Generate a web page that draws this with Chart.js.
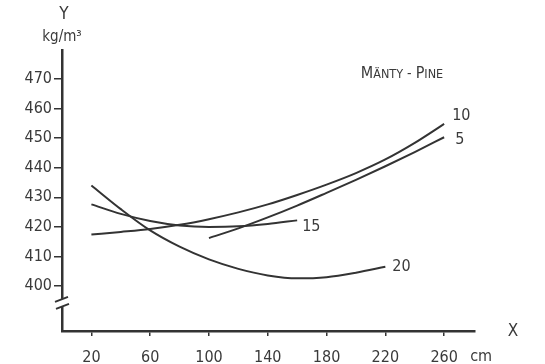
<!DOCTYPE html>
<html>
<head>
<meta charset="utf-8">
<script src="https://cdn.jsdelivr.net/npm/chart.js@4"></script>
<style>
  html, body { margin: 0; padding: 0; background: #fff; }
  #wrap { width: 545px; height: 364px; position: relative; }
</style>
</head>
<body>
<div id="wrap"><canvas id="densityChart"></canvas></div>
<script>
// data (x in cm, y in kg/m3)
const xTicks = [20, 60, 100, 140, 180, 220, 260];
const yTicks = [400, 410, 420, 430, 440, 450, 460, 470];

const x5 = [100, 120, 140, 160, 180, 200, 220, 240, 260];
const y5 = [416.2, 419.5, 423.2, 427.2, 431.5, 435.9, 440.5, 445.3, 450.3];

const x10 = [20, 40, 60, 80, 100, 120, 140, 160, 180, 200, 220, 240, 260];
const y10 = [417.4, 418.3, 419.3, 420.7, 422.6, 424.9, 427.6, 430.8, 434.3, 438.2, 442.8, 448.4, 454.8];

const x15 = [20, 40, 60, 80, 100, 120, 140, 160];
const y15 = [427.6, 424.4, 422.0, 420.5, 420.0, 420.2, 421.0, 422.2];

const x20 = [20, 40, 60, 80, 100, 120, 140, 160, 180, 200, 220];
const y20 = [434.0, 426.0, 418.8, 413.3, 409.0, 405.8, 403.6, 402.6, 403.0, 404.5, 406.5];

const seriesNames = ['5', '10', '15', '20'];

const INK = '#333333';
const TEXT = '#3a3a3a';
const FONT = '"DejaVu Sans Condensed", "DejaVu Sans", sans-serif';

// where each curve's name sits relative to its last point
const labelOffset = {
  '5': [11, 3],
  '10': [8, -8],
  '15': [5, 6],
  '20': [7, 0]
};

function toPoints(xs, ys) {
  return xs.map((x, i) => ({ x: x, y: ys[i] }));
}

function curve(name, xs, ys) {
  return {
    label: name,
    data: toPoints(xs, ys),
    borderColor: INK,
    borderWidth: 2,
    pointRadius: 0,
    fill: false,
    cubicInterpolationMode: 'monotone'
  };
}

const decorations = {
  id: 'decorations',
  afterDraw(chart) {
    const ctx = chart.ctx;
    const area = chart.chartArea;
    const xs = chart.scales.x;
    const ys = chart.scales.y;
    ctx.save();

    // curve names at the end of each line
    ctx.fillStyle = TEXT;
    ctx.font = '16px ' + FONT;
    ctx.textAlign = 'left';
    ctx.textBaseline = 'middle';
    chart.data.datasets.forEach(ds => {
      const last = ds.data[ds.data.length - 1];
      const off = labelOffset[ds.label];
      ctx.fillText(ds.label, xs.getPixelForValue(last.x) + off[0], ys.getPixelForValue(last.y) + off[1]);
    });

    // axis names and units
    ctx.textAlign = 'center';
    ctx.font = '17px ' + FONT;
    ctx.fillText('Y', area.left + 2, 15);
    ctx.font = '15px ' + FONT;
    ctx.fillText('kg/m³', area.left, 37);
    ctx.font = '17px ' + FONT;
    ctx.fillText('X', area.right + 38, area.bottom + 1);
    ctx.font = '16px ' + FONT;
    ctx.fillText('cm', xs.getPixelForValue(260) + 37, area.bottom + 26);

    // small-caps title
    const parts = [['M', 16], ['ÄNTY', 12.5], [' - ', 14], ['P', 16], ['INE', 12.5]];
    let w = 0;
    parts.forEach(p => { ctx.font = p[1] + 'px ' + FONT; w += ctx.measureText(p[0]).width; });
    let tx = 402 - w / 2;
    ctx.textAlign = 'left';
    ctx.textBaseline = 'alphabetic';
    parts.forEach(p => {
      ctx.font = p[1] + 'px ' + FONT;
      ctx.fillText(p[0], tx, 78);
      tx += ctx.measureText(p[0]).width;
    });

    // axis break below 400
    const by = ys.getPixelForValue(394.3);
    ctx.fillStyle = '#fff';
    ctx.fillRect(area.left - 3, by - 4, 6, 8);
    ctx.strokeStyle = INK;
    ctx.lineWidth = 2;
    ctx.beginPath();
    ctx.moveTo(area.left - 7, by - 1);
    ctx.lineTo(area.left + 6, by - 6);
    ctx.moveTo(area.left - 6, by + 6);
    ctx.lineTo(area.left + 7, by + 1);
    ctx.stroke();
    ctx.restore();
  }
};

new Chart(document.getElementById('densityChart').getContext('2d'), {
  type: 'line',
  data: {
    datasets: [
      curve(seriesNames[0], x5, y5),
      curve(seriesNames[1], x10, y10),
      curve(seriesNames[2], x15, y15),
      curve(seriesNames[3], x20, y20)
    ]
  },
  options: {
    responsive: true,
    maintainAspectRatio: false,
    animation: false,
    layout: {
      padding: { top: 50, right: 70, left: 0, bottom: 0 }
    },
    plugins: {
      legend: { display: false },
      tooltip: { enabled: false }
    },
    scales: {
      x: {
        type: 'linear',
        min: 0,
        max: 281,
        afterBuildTicks: axis => { axis.ticks = xTicks.map(v => ({ value: v })); },
        afterFit: axis => { axis.height = 33; },
        ticks: {
          color: TEXT,
          padding: 12,
          maxRotation: 0,
          font: { size: 16, family: FONT }
        },
        grid: {
          drawOnChartArea: false,
          drawTicks: true,
          tickLength: 5,
          color: INK,
          lineWidth: 1.5
        },
        border: { display: true, color: INK, width: 2.5 }
      },
      y: {
        type: 'linear',
        min: 384.8,
        max: 479.8,
        afterBuildTicks: axis => { axis.ticks = yTicks.map(v => ({ value: v })); },
        afterFit: axis => { axis.width = 62; },
        ticks: {
          color: TEXT,
          padding: 2,
          font: { size: 16, family: FONT }
        },
        grid: {
          drawOnChartArea: false,
          drawTicks: true,
          tickLength: 8,
          color: INK,
          lineWidth: 1.5
        },
        border: { display: true, color: INK, width: 2.5 }
      }
    }
  },
  plugins: [decorations]
});
</script>
</body>
</html>
